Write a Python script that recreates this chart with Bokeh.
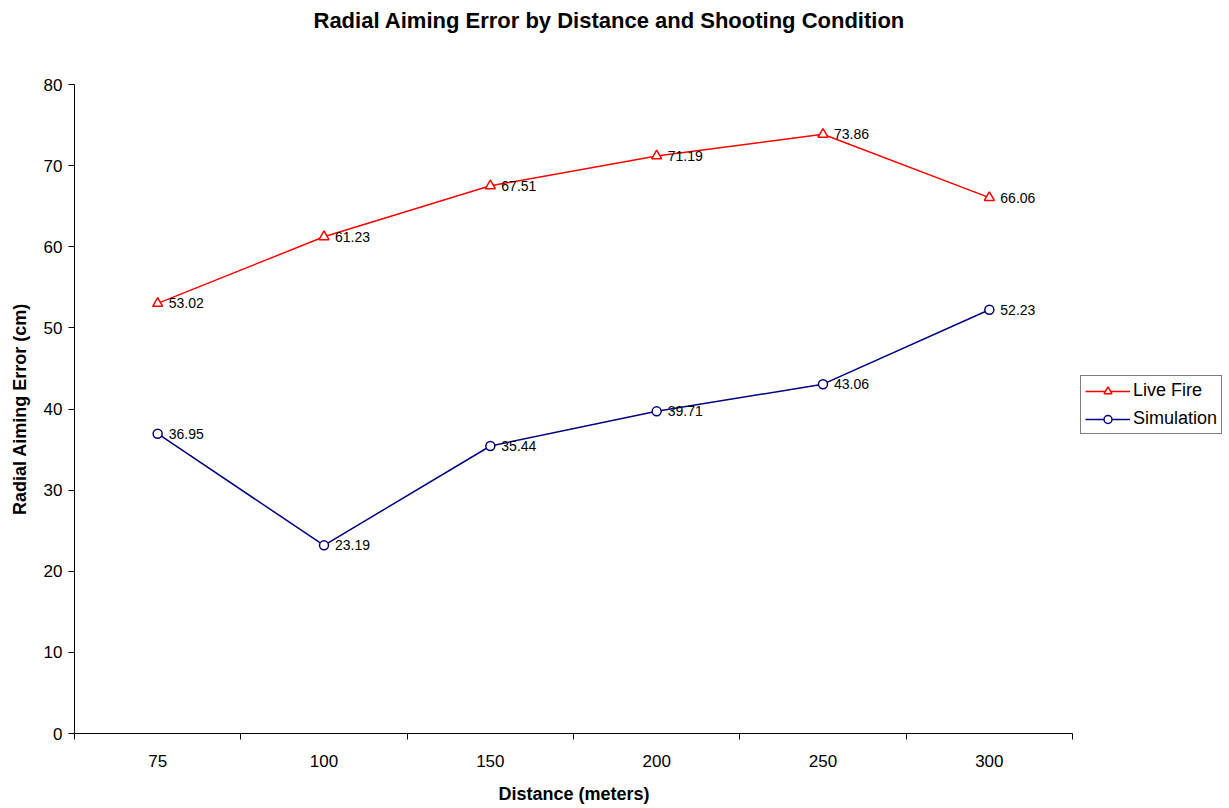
from bokeh.plotting import figure
from bokeh.models import FixedTicker, Legend, LegendItem, Range1d, Title
from bokeh.embed import file_html
from bokeh.resources import INLINE
from bokeh.core.properties import value

# ---- data ----
categories = ["75", "100", "150", "200", "250", "300"]
live_fire = [53.02, 61.23, 67.51, 71.19, 73.86, 66.06]
simulation = [36.95, 23.19, 35.44, 39.71, 43.06, 52.23]
y_ticks = [0, 10, 20, 30, 40, 50, 60, 70, 80]

title_text = "Radial Aiming Error by Distance and Shooting Condition"
x_label = "Distance (meters)"
y_label = "Radial Aiming Error (cm)"

FONT = "Liberation Sans"
RED = "#FF0000"
NAVY = "#000080"

# ---- layout (pixels) ----
W, H = 1229, 808
AX_LEFT, AX_RIGHT = 74, 1072      # where the category axis starts/ends

n = len(categories)
x_pos = [i + 0.5 for i in range(n)]      # category centres
boundaries = list(range(n + 1))          # category boundaries (tick marks)
x_end = n * (W - AX_LEFT) / (AX_RIGHT - AX_LEFT)   # frame also holds the legend

p = figure(width=W, height=H,
           x_range=Range1d(0, x_end), y_range=Range1d(y_ticks[0], y_ticks[-1]),
           output_backend="svg", toolbar_location=None,
           min_border_left=AX_LEFT, min_border_right=0,
           min_border_top=10, min_border_bottom=10)

# spacer between frame and title, then the title itself (outermost)
p.add_layout(Title(text=" ", text_font_size="31px"), "above")
p.title = Title(text=title_text, align="left", offset=239,
                text_font=FONT, text_font_size="22px", text_font_style="bold",
                text_color="black")

p.xgrid.visible = False
p.ygrid.visible = False
p.outline_line_color = None
p.background_fill_color = "white"
p.border_fill_color = "white"

# x axis
xa = p.xaxis[0]
xa.bounds = (0, n)
xa.ticker = FixedTicker(ticks=x_pos, minor_ticks=boundaries)
xa.major_label_overrides = {x: c for x, c in zip(x_pos, categories)}
xa.major_tick_line_color = None
xa.major_tick_out = 0
xa.major_tick_in = 0
xa.minor_tick_line_color = "black"
xa.minor_tick_out = 6
xa.minor_tick_in = 0
xa.major_label_standoff = 15
# small gap below the tick labels
xa.axis_label = " "
xa.axis_label_standoff = 3
xa.axis_label_text_font_size = "1px"

# x axis title, centred under the category axis
p.add_layout(Title(text=x_label, align="left", offset=424,
                   text_font=FONT, text_font_size="18px", text_font_style="bold",
                   text_color="black"), "below")

# y axis
ya = p.yaxis[0]
ya.ticker = FixedTicker(ticks=y_ticks)
ya.major_tick_out = 6
ya.major_tick_in = 0
ya.minor_tick_line_color = None
ya.major_label_standoff = 6
ya.axis_label = y_label
ya.axis_label_standoff = 11
ya.axis_label_text_font_size = "18px"

for ax in (xa, ya):
    ax.axis_line_color = "black"
    ax.major_label_text_font = FONT
    ax.major_label_text_font_size = "17px"
    ax.major_label_text_color = "black"
    ax.axis_label_text_font = FONT
    ax.axis_label_text_font_style = "bold"
    ax.axis_label_text_color = "black"

# series
lf_line = p.line(x_pos, live_fire, line_color=RED, line_width=1.5)
lf_mark = p.scatter(x_pos, live_fire, marker="triangle", size=10,
                    line_color=RED, fill_color="white", line_width=1.5)
sim_line = p.line(x_pos, simulation, line_color=NAVY, line_width=1.5)
sim_mark = p.scatter(x_pos, simulation, marker="circle", size=9,
                     line_color=NAVY, fill_color="white", line_width=1.5)

for vals in (live_fire, simulation):
    p.text(x_pos, vals, text=[f"{v:.2f}" for v in vals], x_offset=11,
           text_baseline="middle", text_align="left",
           text_font=value(FONT), text_font_size="14px", text_color="black")

legend = Legend(items=[LegendItem(label="Live Fire", renderers=[lf_line, lf_mark]),
                       LegendItem(label="Simulation", renderers=[sim_line, sim_mark])],
                location=(1080 - AX_LEFT, 299), orientation="vertical",
                border_line_color="black", border_line_width=1,
                background_fill_color="white", background_fill_alpha=1,
                label_text_font=FONT, label_text_font_size="18px",
                label_text_color="black",
                glyph_width=45, glyph_height=20, label_height=20,
                label_standoff=3, spacing=7, padding=4, margin=0)
p.add_layout(legend, "center")

open("out.html", "w").write(file_html(p, INLINE))
